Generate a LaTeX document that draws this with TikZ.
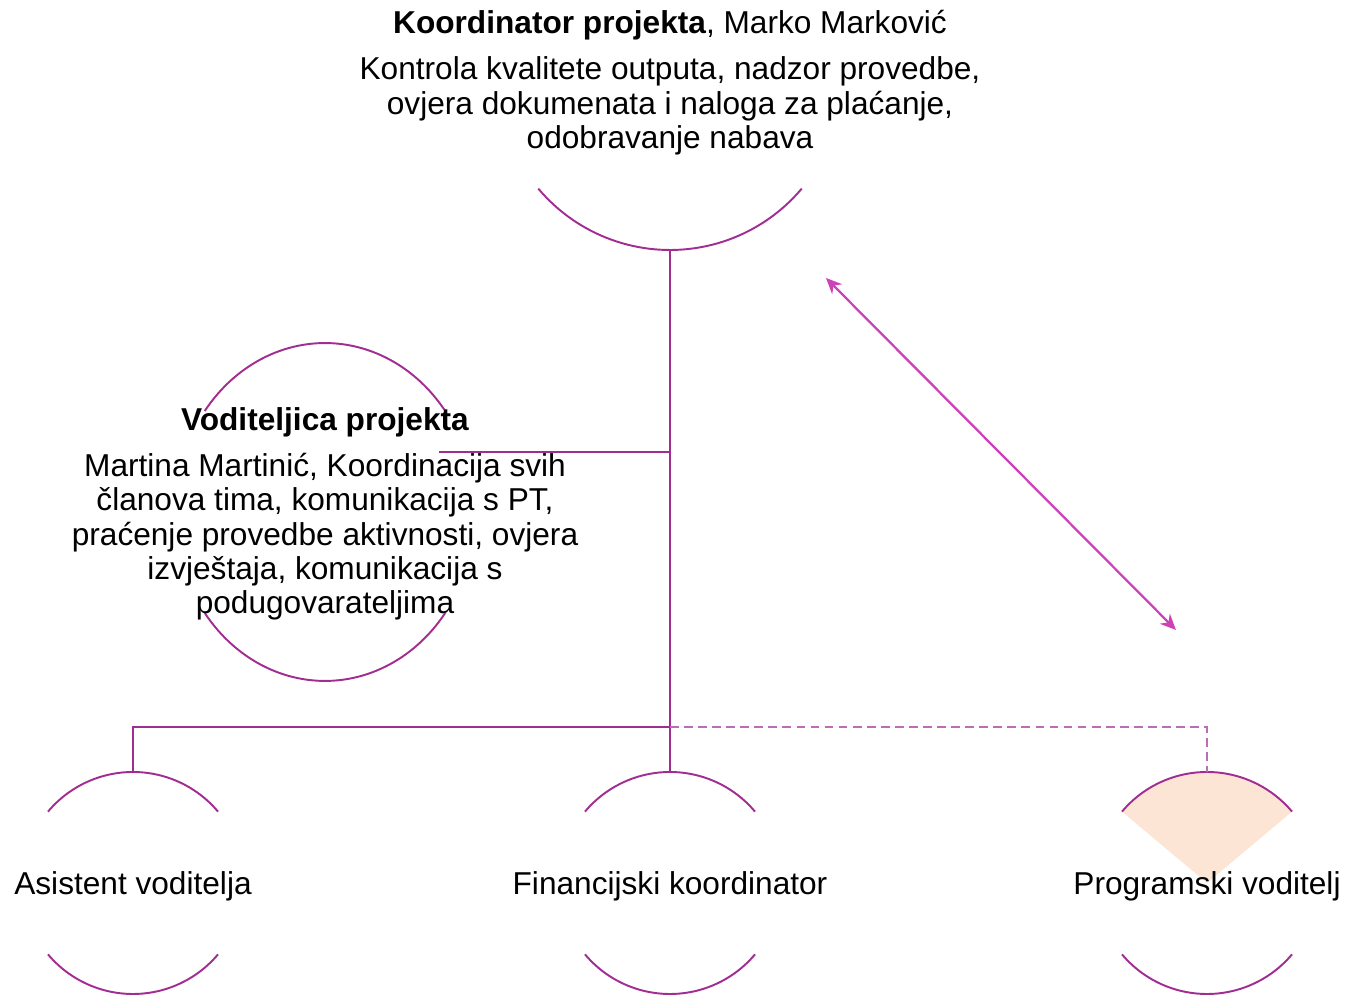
\documentclass[tikz,border=0pt]{standalone}
\usepackage{fontspec}
\setmainfont{Liberation Sans}
\usetikzlibrary{arrows.meta, shapes.geometric}
\definecolor{plum}{RGB}{162,45,146}
\definecolor{orchid}{RGB}{206,66,184}
\definecolor{peach}{RGB}{253,229,213}
\tikzset{
	ring/.style={circle, minimum size=#1, inner sep=0pt, outer sep=0pt},
	oval/.style={ellipse, minimum width=6cm, minimum height=6.76cm, inner sep=0pt, outer sep=0pt},
	rim/.style={draw=plum, line width=1.1pt},
	link/.style={draw=plum, line width=1.1pt},
	dashlink/.style={draw=plum!70, line width=1.1pt, dash pattern=on 5pt off 3pt},
	duplex/.style={draw=orchid, line width=1.3pt, {Stealth[length=9pt,width=8pt]}-{Stealth[length=9pt,width=8pt]}},
	txt/.style={align=center, inner sep=0pt, font=\fontsize{18}{19.6}\selectfont}
}

\begin{document}
\begin{tikzpicture}
\useasboundingbox (0,0) rectangle (26.98,19.92);

\node[ring=6.88cm] (koord) at (13.4,18.36) {};
\node[oval] (vodit) at (6.5,9.68) {};
\node[ring=4.44cm] (asist) at (2.66,2.26) {};
\node[ring=4.44cm] (finan) at (13.4,2.26) {};
\node[ring=4.44cm] (progr) at (24.14,2.26) {};

\fill[peach] (progr.center) -- (progr.40) arc[start angle=40, end angle=140, radius=2.22cm] -- cycle;

\draw[rim] (koord.220) arc[start angle=220, end angle=320, radius=3.44cm];
\draw[rim] (vodit.140) arc[start angle=143.3, end angle=36.7, x radius=3cm, y radius=3.38cm];
\draw[rim] (vodit.220) arc[start angle=216.7, end angle=323.3, x radius=3cm, y radius=3.38cm];
\foreach \n in {asist, finan, progr} {
	\draw[rim] (\n.140) arc[start angle=140, end angle=40, radius=2.22cm];
	\draw[rim] (\n.220) arc[start angle=220, end angle=320, radius=2.22cm];
}

\coordinate (vjoin) at (8.78,10.88);
\coordinate (bus) at (13.4,5.38);
\draw[link] (koord.south) -- (finan.north);
\draw[link] (vjoin) -- (vjoin -| koord.south);
\draw[link] (asist.north) |- (bus);
\draw[dashlink] (bus) -| (progr.north);

\coordinate (upend) at (16.52,14.36);
\coordinate (downend) at (23.52,7.32);
\draw[duplex] (upend) -- (downend);

\node[txt, anchor=north] (koord-t) at (13.4,19.72) {\textbf{Koordinator projekta}, Marko Marković\\[0.23cm]
Kontrola kvalitete outputa, nadzor provedbe,\\ ovjera dokumenata i naloga za plaćanje,\\ odobravanje nabava};
\node[txt, anchor=north] (vodit-t) at (6.5,11.78) {\textbf{Voditeljica projekta}\\[0.23cm]
Martina Martinić, Koordinacija svih\\ članova tima, komunikacija s PT,\\ praćenje provedbe aktivnosti, ovjera\\ izvještaja, komunikacija s\\ podugovarateljima};
\node[txt] (asist-t) at ([yshift=-0.07cm]asist.center) {Asistent voditelja};
\node[txt] (finan-t) at ([yshift=-0.07cm]finan.center) {Financijski koordinator};
\node[txt] (progr-t) at ([yshift=-0.07cm]progr.center) {Programski voditelj};
\end{tikzpicture}
\end{document}
